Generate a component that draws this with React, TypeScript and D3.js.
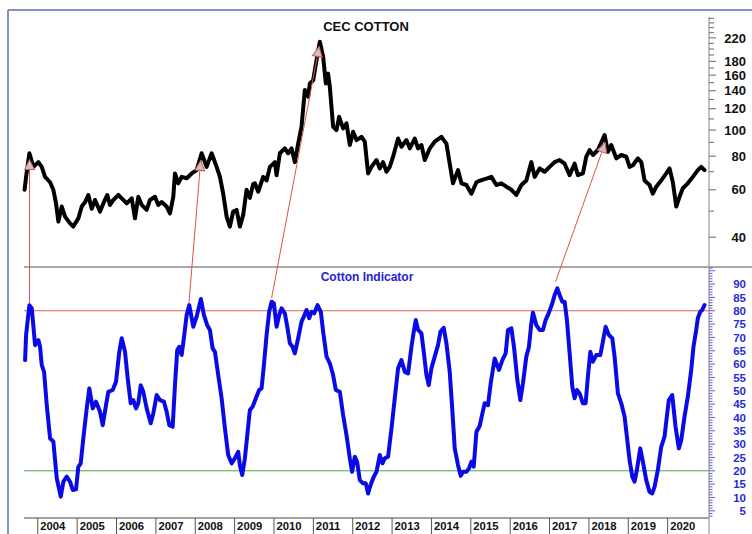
import React from 'react';
import * as d3 from 'd3';

// CEC cotton price (weekly, sampled) - decimal year / price
const priceYears = [
  2003.665, 2003.703, 2003.787, 2003.888, 2004.015, 2004.101, 2004.185, 2004.312, 2004.396, 2004.464,
  2004.523, 2004.609, 2004.693, 2004.82, 2004.903, 2005.03, 2005.117, 2005.2, 2005.284, 2005.37,
  2005.454, 2005.581, 2005.665, 2005.766, 2005.835, 2005.919, 2006.046, 2006.172, 2006.259, 2006.386,
  2006.469, 2006.553, 2006.64, 2006.766, 2006.85, 2006.977, 2007.061, 2007.147, 2007.274, 2007.358,
  2007.442, 2007.485, 2007.568, 2007.655, 2007.782, 2007.909, 2008.035, 2008.162, 2008.289, 2008.416,
  2008.543, 2008.627, 2008.71, 2008.797, 2008.88, 2008.964, 2009.05, 2009.134, 2009.218, 2009.304,
  2009.388, 2009.472, 2009.515, 2009.599, 2009.726, 2009.812, 2009.896, 2010.023, 2010.066, 2010.15,
  2010.276, 2010.36, 2010.446, 2010.53, 2010.614, 2010.7, 2010.784, 2010.868, 2010.911, 2010.995,
  2011.081, 2011.165, 2011.249, 2011.317, 2011.375, 2011.418, 2011.502, 2011.588, 2011.655, 2011.756,
  2011.842, 2011.926, 2012.01, 2012.096, 2012.223, 2012.307, 2012.391, 2012.477, 2012.604, 2012.687,
  2012.771, 2012.858, 2012.941, 2013.025, 2013.152, 2013.238, 2013.365, 2013.449, 2013.576, 2013.66,
  2013.746, 2013.83, 2013.957, 2014.083, 2014.253, 2014.38, 2014.464, 2014.548, 2014.675, 2014.761,
  2014.888, 2015.015, 2015.142, 2015.25, 2015.395, 2015.522, 2015.649, 2015.776, 2015.903, 2016.03,
  2016.157, 2016.284, 2016.41, 2016.537, 2016.621, 2016.748, 2016.875, 2017.002, 2017.128, 2017.255,
  2017.382, 2017.509, 2017.636, 2017.72, 2017.847, 2017.933, 2018.017, 2018.101, 2018.228, 2018.398,
  2018.482, 2018.568, 2018.695, 2018.822, 2018.949, 2019.032, 2019.116, 2019.243, 2019.33, 2019.413,
  2019.54, 2019.624, 2019.71, 2019.837, 2019.964, 2020.048, 2020.132, 2020.218, 2020.302, 2020.385,
  2020.512, 2020.639, 2020.766, 2020.852, 2020.936,
];
const priceValues = [
  60, 67, 82, 73, 76, 73, 67, 64, 60, 53.4,
  45.7, 52, 47.7, 45, 43.8, 47, 52, 54, 57.4, 51,
  55, 49.8, 53.4, 57.4, 52.7, 55, 57.4, 55, 53.4, 55.8,
  47, 56.5, 52.7, 50.5, 55, 56.5, 52.7, 54, 52, 49,
  56.5, 69, 63.4, 67, 66.2, 69, 71, 82, 73, 82,
  73, 67, 58, 47.7, 43.8, 49.8, 50.5, 43.8, 48.4, 60,
  56, 63, 63.4, 59, 67, 65, 73, 76, 68, 82,
  85.5, 82, 85.5, 76, 89, 103, 141, 133, 149, 153,
  182, 213, 187, 149, 162, 145, 103, 100, 112, 101.5,
  106, 88, 98.6, 91.8, 94.4, 90.5, 69, 73, 77.4, 72,
  76, 70, 73, 79.6, 93, 86.7, 91.8, 85.5, 93, 85.5,
  88, 77.4, 85.5, 90.5, 94.4, 89, 75, 63.4, 71, 63.4,
  62.5, 58, 64, 65, 66, 67, 62.5, 63.4, 61.6, 60,
  57.4, 62.5, 65, 76, 67, 72, 70, 73, 76, 77.4,
  75, 68, 75, 68, 69, 79.6, 84.3, 80.8, 84.3, 95.8,
  83, 88, 78.5, 80.8, 79.6, 73, 74, 78.5, 76, 65,
  62.5, 58, 61.6, 65, 69, 72, 64, 52, 56.5, 60.8,
  63.4, 67, 71, 73, 71,
];

// Cotton indicator - decimal year / value
const indYears = [
  2003.678, 2003.703, 2003.787, 2003.848, 2003.931, 2004.015, 2004.058, 2004.101, 2004.16, 2004.228,
  2004.312, 2004.396, 2004.482, 2004.584, 2004.65, 2004.736, 2004.82, 2004.888, 2004.972, 2005.03,
  2005.091, 2005.157, 2005.243, 2005.309, 2005.396, 2005.48, 2005.581, 2005.65, 2005.733, 2005.792,
  2005.903, 2005.987, 2006.071, 2006.132, 2006.216, 2006.284, 2006.36, 2006.426, 2006.495, 2006.553,
  2006.614, 2006.68, 2006.766, 2006.868, 2006.934, 2007.02, 2007.104, 2007.205, 2007.274, 2007.34,
  2007.426, 2007.485, 2007.543, 2007.594, 2007.655, 2007.721, 2007.782, 2007.848, 2007.909, 2007.949,
  2008.035, 2008.144, 2008.221, 2008.304, 2008.373, 2008.441, 2008.5, 2008.583, 2008.67, 2008.754,
  2008.837, 2008.924, 2009.007, 2009.091, 2009.134, 2009.193, 2009.261, 2009.33, 2009.388, 2009.457,
  2009.54, 2009.624, 2009.685, 2009.744, 2009.812, 2009.878, 2009.939, 2009.997, 2010.066, 2010.132,
  2010.193, 2010.276, 2010.345, 2010.403, 2010.472, 2010.53, 2010.614, 2010.7, 2010.759, 2010.827,
  2010.893, 2010.954, 2011.02, 2011.106, 2011.19, 2011.249, 2011.335, 2011.418, 2011.502, 2011.571,
  2011.672, 2011.756, 2011.842, 2011.926, 2011.984, 2012.053, 2012.111, 2012.18, 2012.263, 2012.332,
  2012.391, 2012.451, 2012.535, 2012.604, 2012.687, 2012.756, 2012.815, 2012.898, 2012.985, 2013.068,
  2013.152, 2013.238, 2013.322, 2013.406, 2013.492, 2013.55, 2013.601, 2013.66, 2013.746, 2013.804,
  2013.873, 2013.931, 2013.999, 2014.083, 2014.167, 2014.228, 2014.312, 2014.38, 2014.464, 2014.533,
  2014.591, 2014.675, 2014.743, 2014.802, 2014.888, 2014.954, 2015.015, 2015.073, 2015.142, 2015.225,
  2015.294, 2015.352, 2015.436, 2015.505, 2015.606, 2015.715, 2015.801, 2015.885, 2015.944, 2016.03,
  2016.096, 2016.182, 2016.258, 2016.324, 2016.41, 2016.476, 2016.537, 2016.578, 2016.664, 2016.748,
  2016.832, 2016.9, 2016.984, 2017.07, 2017.129, 2017.198, 2017.256, 2017.324, 2017.383, 2017.441,
  2017.51, 2017.578, 2017.637, 2017.695, 2017.764, 2017.847, 2017.916, 2017.974, 2018.035, 2018.101,
  2018.187, 2018.289, 2018.355, 2018.423, 2018.507, 2018.593, 2018.652, 2018.736, 2018.822, 2018.906,
  2018.974, 2019.032, 2019.101, 2019.159, 2019.218, 2019.304, 2019.37, 2019.456, 2019.54, 2019.608,
  2019.667, 2019.751, 2019.837, 2019.92, 2019.979, 2020.03, 2020.116, 2020.2, 2020.284, 2020.345,
  2020.428, 2020.512, 2020.598, 2020.656, 2020.725, 2020.766, 2020.827, 2020.877, 2020.936,
];
const indValues = [
  61.5, 70.9, 82.1, 80.9, 67.1, 69, 66.5, 59.6, 57.1, 44.6,
  32.2, 30.9, 17.2, 10.3, 15.9, 17.8, 15.9, 12.8, 13.1, 21.5,
  22.8, 32.2, 43.4, 50.9, 43.4, 45.9, 42.1, 37.1, 44.6, 49.6,
  50.3, 53.4, 64.6, 69.7, 64.6, 54.7, 45.3, 46.5, 43.4, 45.3,
  52.1, 49.6, 43.4, 37.8, 41.5, 48.4, 46.5, 45.9, 42.1, 37.1,
  36.5, 52.1, 65.3, 66.5, 63.4, 70.9, 78.4, 82.1, 77.2, 74,
  77.8, 84.4, 78.4, 74.6, 72.8, 65.9, 64.6, 55.9, 47.2, 35.9,
  25.9, 22.8, 24.7, 27.1, 22.1, 18.4, 24.7, 34.6, 42.8, 44,
  47.2, 50.3, 50.9, 59.6, 70.9, 79.6, 83.4, 82.8, 74, 78.4,
  80.9, 79, 73.4, 67.8, 66.5, 64, 69.7, 75.9, 77.8, 80.3,
  77.2, 79.6, 79, 82.1, 79.6, 72.1, 62.8, 60.3, 55.9, 50.3,
  49.6, 40.9, 33.4, 24.7, 19.6, 25.3, 23.4, 16.5, 15.3, 15.3,
  11.5, 14.6, 17.8, 19.6, 25.9, 22.8, 24.7, 25.3, 35.9, 47.2,
  58.4, 61.5, 57.1, 56.5, 66.5, 72.1, 76.5, 72.8, 71.5, 64.6,
  55.9, 52.1, 58.4, 62.8, 67.1, 72.1, 73.6, 67.8, 57.1, 42.1,
  28.4, 22.1, 18.1, 19.6, 19.6, 20.9, 23.4, 21.5, 34.6, 36.8,
  41.5, 45.3, 44.6, 52.8, 62.1, 57.8, 61.5, 64, 72.8, 73.4,
  66.5, 54, 46.5, 52.8, 62.8, 66.5, 75.3, 79.3, 74.6, 72.8,
  72.8, 76.5, 79.3, 82.8, 85.9, 88.4, 85.9, 83.4, 83.4, 76.5,
  64, 51.5, 47.2, 50.3, 49, 45.3, 45.3, 55.3, 64.6, 60.9,
  63.4, 63.4, 68.4, 74, 70.9, 69.7, 62.8, 49, 45.3, 40.3,
  31.5, 24, 17.8, 15.9, 20.3, 28.4, 23.4, 16.5, 12.1, 11.5,
  14, 20.3, 29, 32.8, 40.3, 46.5, 48.4, 36.5, 28.4, 31.5,
  40.3, 47.8, 57.8, 66.5, 72.8, 77.2, 79.6, 80.3, 82.1,
];

// arrows: indicator peak (year, indicator) -> price peak (year, price)
const arrowFromYears = [2003.79, 2007.84, 2009.94, 2017.15];
const arrowFromValues = [82.9, 82.9, 84.8, 90.8];
const arrowToYears = [2003.79, 2008.14, 2011.15, 2018.42];
const arrowToValues = [78, 77.4, 205, 90.3];

const yearLabels = d3.range(2004, 2021);
const priceTickLabels = [40, 60, 80, 100, 120, 140, 160, 180, 220];
const priceMinorTicks = d3.range(40, 261, 10);
const indTickLabels = d3.range(5, 91, 5);
const indMinorTicks = d3.range(3, 97, 1);
const overbought = 80;
const oversold = 20;

const W = 752;
const H = 534;
const left = 24;
const right = 709;
const topY = 17;
const midY = 267;
const botY = 518;
const font = '"Liberation Sans", Arial, Helvetica, sans-serif';

const x = d3.scaleLinear().domain([2003.65, 2021.05]).range([left, right]);
const yPrice = d3.scaleLog().domain([31, 263]).range([midY, topY]);
const yInd = d3.scaleLinear().domain([2.3, 96.4]).range([botY, midY]);

const App: React.FC = () => {
  const priceLine = d3.line<number>()
    .x((_, i) => x(priceYears[i]))
    .y(d => yPrice(d))(priceValues);
  const indLine = d3.line<number>()
    .x((_, i) => x(indYears[i]))
    .y(d => yInd(d))(indValues);

  return (
    <svg width={W} height={H} style={{ position: 'absolute', left: 0, top: 0, background: '#fff' }}
      fontFamily={font}>
      <defs>
        <marker id="head" viewBox="0 0 10 10" refX="10" refY="5" markerUnits="userSpaceOnUse"
          markerWidth="12" markerHeight="11" orient="auto">
          <path d="M0.5,0.5 L9.5,5 L0.5,9.5 Z" fill="#c4c4c4" stroke="#d9534f" strokeWidth="0.9" />
        </marker>
      </defs>

      {/* outer frame */}
      <line x1={8} x2={W} y1={10} y2={10} stroke="#5c6fa8" strokeWidth={1.5} />
      <line x1={8} x2={8} y1={10} y2={H} stroke="#5c6fa8" strokeWidth={1.5} />

      {/* panel borders */}
      <line x1={left} x2={W} y1={midY} y2={midY} stroke="#555" strokeWidth={1} />
      <line x1={left} x2={right} y1={botY} y2={botY} stroke="#444" strokeWidth={1} />
      <line x1={right} x2={right} y1={topY} y2={H} stroke="#9a9a9a" strokeWidth={1.2} />

      {/* price axis ticks */}
      {priceMinorTicks.map(v => {
        const major = priceTickLabels.includes(v);
        return <line key={'pt' + v} x1={right} x2={right + (major ? 7 : 5)} y1={yPrice(v)} y2={yPrice(v)}
          stroke="#666" strokeWidth={1} />;
      })}
      {priceTickLabels.map(v => (
        <text key={'pl' + v} x={746} y={yPrice(v)} dy="0.36em" textAnchor="end"
          fontSize={13} fontWeight="bold" fill="#111">{v}</text>
      ))}

      {/* indicator axis ticks */}
      {indMinorTicks.map(v => {
        const major = v % 5 === 0;
        return <line key={'it' + v} x1={right} x2={right + (major ? 6 : 3.5)} y1={yInd(v)} y2={yInd(v)}
          stroke="#5a5ad0" strokeWidth={1} />;
      })}
      {indTickLabels.map(v => (
        <text key={'il' + v} x={746} y={yInd(v)} dy="0.36em" textAnchor="end"
          fontSize={11.5} fontWeight="bold" fill="#2b2bd6">{v}</text>
      ))}

      {/* year axis */}
      {yearLabels.map(yr => (
        <g key={'yr' + yr}>
          <line x1={x(yr)} x2={x(yr)} y1={botY} y2={H} stroke="#555" strokeWidth={1} />
          <text x={x(yr) + 2.5} y={529.5} fontSize={11.3} fontWeight="bold" fill="#111">{yr}</text>
        </g>
      ))}

      {/* thresholds */}
      <line x1={left} x2={right} y1={yInd(overbought)} y2={yInd(overbought)} stroke="#e06060" strokeWidth={1} />
      <line x1={left} x2={right} y1={yInd(oversold)} y2={yInd(oversold)} stroke="#4fa34f" strokeWidth={1} />

      {/* titles */}
      <text x={366} y={30.5} textAnchor="middle" fontSize={13} fontWeight="bold" fill="#111">CEC COTTON</text>
      <text x={367} y={281} textAnchor="middle" fontSize={12} fontWeight="bold" fill="#2424d8">Cotton Indicator</text>

      {/* series */}
      <path d={priceLine || ''} fill="none" stroke="#000" strokeWidth={4} strokeLinejoin="round" strokeLinecap="round" />
      <path d={indLine || ''} fill="none" stroke="#0a0ae6" strokeWidth={4} strokeLinejoin="round" strokeLinecap="round" />

      {/* arrows */}
      {arrowFromYears.map((yr, i) => (
        <line key={'ar' + i}
          x1={x(yr)} y1={yInd(arrowFromValues[i])}
          x2={x(arrowToYears[i])} y2={yPrice(arrowToValues[i])}
          stroke="#d9534f" strokeWidth={1} markerEnd="url(#head)" />
      ))}
    </svg>
  );
};

export default App;
